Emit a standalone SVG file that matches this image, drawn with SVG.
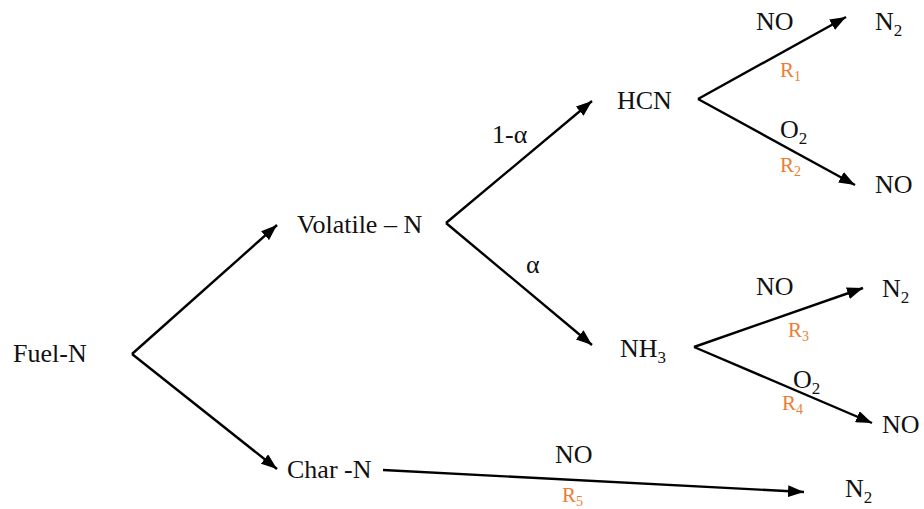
<svg xmlns="http://www.w3.org/2000/svg" width="924" height="509" viewBox="0 0 924 509">
  <defs>
    <marker id="arrow" viewBox="0 0 16 12" refX="16" refY="6" markerWidth="16" markerHeight="12" markerUnits="userSpaceOnUse" orient="auto">
      <path d="M0,0 L16,6 L0,12 Z" fill="#000"/>
    </marker>
    <style>
      text { font-family: "Liberation Serif", "DejaVu Serif", "Times New Roman", serif; }
      .lbl { font-size: 26px; fill: #111; }
      .rate { font-size: 21px; fill: #ED7D31; }
      .sub { font-size: 17px; }
      .rsub { font-size: 14px; }
      .edge { stroke: #000; stroke-width: 2.4; fill: none; marker-end: url(#arrow); }
    </style>
  </defs>
  <rect width="924" height="509" fill="#fff"/>

  <!-- connectors -->
  <g id="connectors">
    <path class="edge" d="M132,354 L277,225"/>
    <path class="edge" d="M132,354 L277,469"/>
    <path class="edge" d="M446,223 L592,101"/>
    <path class="edge" d="M446,223 L592,345"/>
    <path class="edge" d="M698,99 L846,17"/>
    <path class="edge" d="M698,99 L855,185"/>
    <path class="edge" d="M694,347 L863,288"/>
    <path class="edge" d="M694,347 L872,423"/>
    <path class="edge" d="M383,470 L804,492"/>
  </g>

  <!-- edge labels -->
  <g id="edge-labels">
    <text class="lbl" x="492" y="143">1-α</text>
    <text class="lbl" x="526" y="273">α</text>
    <text class="lbl" x="756" y="30">NO</text>
    <text class="rate" x="780" y="77">R<tspan class="rsub" dy="4">1</tspan></text>
    <text class="lbl" x="780" y="138">O<tspan class="sub" dy="6">2</tspan></text>
    <text class="rate" x="780" y="172">R<tspan class="rsub" dy="4">2</tspan></text>
    <text class="lbl" x="756" y="295">NO</text>
    <text class="rate" x="788" y="337">R<tspan class="rsub" dy="4">3</tspan></text>
    <text class="lbl" x="793" y="388">O<tspan class="sub" dy="6">2</tspan></text>
    <text class="rate" x="782" y="410">R<tspan class="rsub" dy="4">4</tspan></text>
    <text class="lbl" x="555" y="463">NO</text>
    <text class="rate" x="562" y="502">R<tspan class="rsub" dy="4">5</tspan></text>
  </g>

  <!-- nodes -->
  <g id="fuel-n"><text class="lbl" x="13" y="362">Fuel-N</text></g>
  <g id="volatile-n"><text class="lbl" x="297" y="233">Volatile – N</text></g>
  <g id="char-n"><text class="lbl" x="287" y="478">Char -N</text></g>
  <g id="hcn"><text class="lbl" x="617" y="109">HCN</text></g>
  <g id="nh3"><text class="lbl" x="620" y="357">NH<tspan class="sub" dy="6">3</tspan></text></g>
  <g id="hcn-n2"><text class="lbl" x="875" y="30">N<tspan class="sub" dy="6">2</tspan></text></g>
  <g id="hcn-no"><text class="lbl" x="875" y="193">NO</text></g>
  <g id="nh3-n2"><text class="lbl" x="882" y="297">N<tspan class="sub" dy="6">2</tspan></text></g>
  <g id="nh3-no"><text class="lbl" x="882" y="433">NO</text></g>
  <g id="char-n2"><text class="lbl" x="845" y="497">N<tspan class="sub" dy="6">2</tspan></text></g>
</svg>
